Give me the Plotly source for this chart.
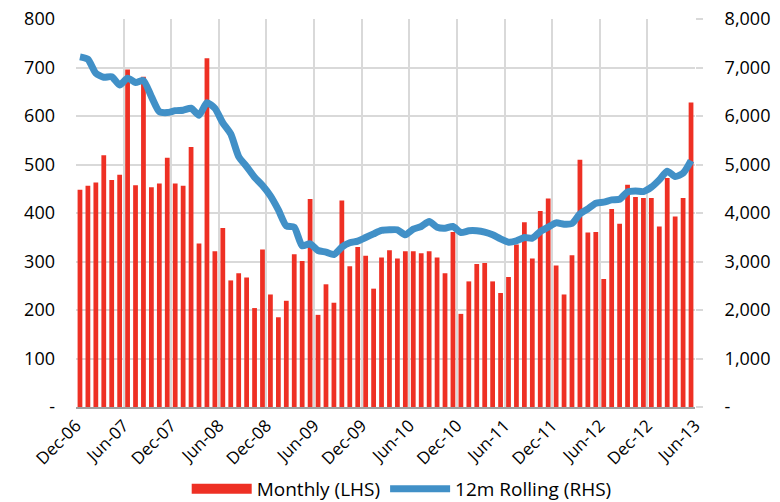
import plotly.graph_objects as go

# Categories: monthly periods Jan-07 .. Jun-13
month_names = ["Jan", "Feb", "Mar", "Apr", "May", "Jun", "Jul", "Aug", "Sep", "Oct", "Nov", "Dec"]
months = [f"{m}-{y:02d}" for y in range(7, 14) for m in month_names][:78]

# Monthly values (LHS)
monthly = [448, 456, 463, 519, 468, 479, 696, 457, 681, 453,
           461, 514, 461, 456, 536, 337, 719, 321, 369, 261,
           276, 267, 204, 325, 232, 185, 219, 315, 301, 429,
           190, 253, 215, 426, 290, 330, 312, 244, 308, 323,
           306, 321, 321, 317, 321, 308, 276, 361, 192, 259,
           295, 297, 259, 235, 268, 335, 381, 306, 404, 430,
           292, 232, 313, 510, 360, 361, 264, 408, 378, 458,
           433, 431, 431, 372, 472, 393, 431, 628]

# 12m rolling values (RHS)
rolling = [7220, 7170, 6880, 6800, 6810, 6640, 6780, 6690, 6730, 6400,
           6090, 6070, 6110, 6120, 6160, 6015, 6275, 6160, 5860, 5630,
           5163, 4957, 4738, 4566, 4353, 4065, 3735, 3708, 3323, 3364,
           3227, 3193, 3144, 3296, 3385, 3420, 3494, 3570, 3640, 3653,
           3653, 3550, 3667, 3722, 3825, 3708, 3688, 3722, 3598, 3633,
           3633, 3605, 3550, 3467, 3399, 3426, 3494, 3481, 3618, 3708,
           3797, 3770, 3783, 3982, 4085, 4203, 4224, 4271, 4285, 4436,
           4456, 4442, 4532, 4683, 4862, 4751, 4821, 5081]

# Axis tick labels
x_tick_labels = ["Dec-06", "Jun-07", "Dec-07", "Jun-08", "Dec-08", "Jun-09", "Dec-09",
                 "Jun-10", "Dec-10", "Jun-11", "Dec-11", "Jun-12", "Dec-12", "Jun-13"]
left_ticks = [0, 100, 200, 300, 400, 500, 600, 700, 800]
left_labels = ["-", "100", "200", "300", "400", "500", "600", "700", "800"]
right_ticks = [0, 1000, 2000, 3000, 4000, 5000, 6000, 7000, 8000]
right_labels = ["-", "1,000", "2,000", "3,000", "4,000", "5,000", "6,000", "7,000", "8,000"]

x = list(range(len(months)))
x_tick_pos = [i * 6 - 0.5 for i in range(len(x_tick_labels))]

FONT = "Open Sans"
GRID = "#D9D9D9"
RED = "#EE3024"
BLUE = "#4190C7"

fig = go.Figure()
fig.add_trace(go.Bar(
    x=x, y=monthly, customdata=months, name="Monthly (LHS)",
    marker=dict(color=RED, line=dict(width=0)),
    width=0.6, yaxis="y", showlegend=False, legendgroup="m",
))
# legend key for the bars (wide red block, as in the reference)
fig.add_trace(go.Scatter(
    x=[None], y=[None], name="Monthly (LHS)", mode="lines",
    line=dict(color=RED, width=12), legendgroup="m", hoverinfo="skip",
))
fig.add_trace(go.Scatter(
    x=x, y=rolling, customdata=months, name="12m Rolling (RHS)",
    mode="lines", line=dict(color=BLUE, width=7, shape="spline", smoothing=0.6),
    yaxis="y2",
))

fig.update_layout(
    width=780, height=502,
    margin=dict(l=76, r=85, t=19, b=95, autoexpand=False),
    paper_bgcolor="white", plot_bgcolor="white",
    font=dict(family=FONT, size=16, color="#000000"),
    showlegend=True,
    legend=dict(orientation="h", xref="container", yref="container",
                x=0.515, xanchor="center", y=0.026, yanchor="middle",
                font=dict(family=FONT, size=19, color="#000000"),
                itemwidth=60, traceorder="normal"),
    bargap=0.4,
    xaxis=dict(
        range=[-0.5, len(months) - 0.5], automargin=False,
        tickmode="array", tickvals=x_tick_pos, ticktext=x_tick_labels,
        tickangle=-45, tickfont=dict(family=FONT, size=17),
        showgrid=True, gridcolor=GRID, gridwidth=1.5,
        showline=True, linecolor="#A0A0A0", linewidth=2,
        ticks="", zeroline=False,
    ),
    yaxis=dict(
        range=[0, 800], tickmode="array", tickvals=left_ticks, ticktext=left_labels,
        tickfont=dict(family=FONT, size=18), automargin=False,
        showgrid=True, gridcolor=GRID, gridwidth=1.5,
        zeroline=False, showline=False, ticks="", ticklabelstandoff=20,
    ),
    yaxis2=dict(
        range=[0, 8000], tickmode="array", tickvals=right_ticks, ticktext=right_labels,
        overlaying="y", side="right", automargin=False,
        tickfont=dict(family=FONT, size=18),
        showgrid=False, zeroline=False, showline=False,
        ticks="outside", ticklen=7, tickcolor=GRID, tickwidth=1.5,
        ticklabelstandoff=18,
    ),
)

fig.write_html(
    "out.html",
    config={"displayModeBar": False},
    post_script="document.body.style.margin='0';document.body.style.overflow='hidden';",
)
